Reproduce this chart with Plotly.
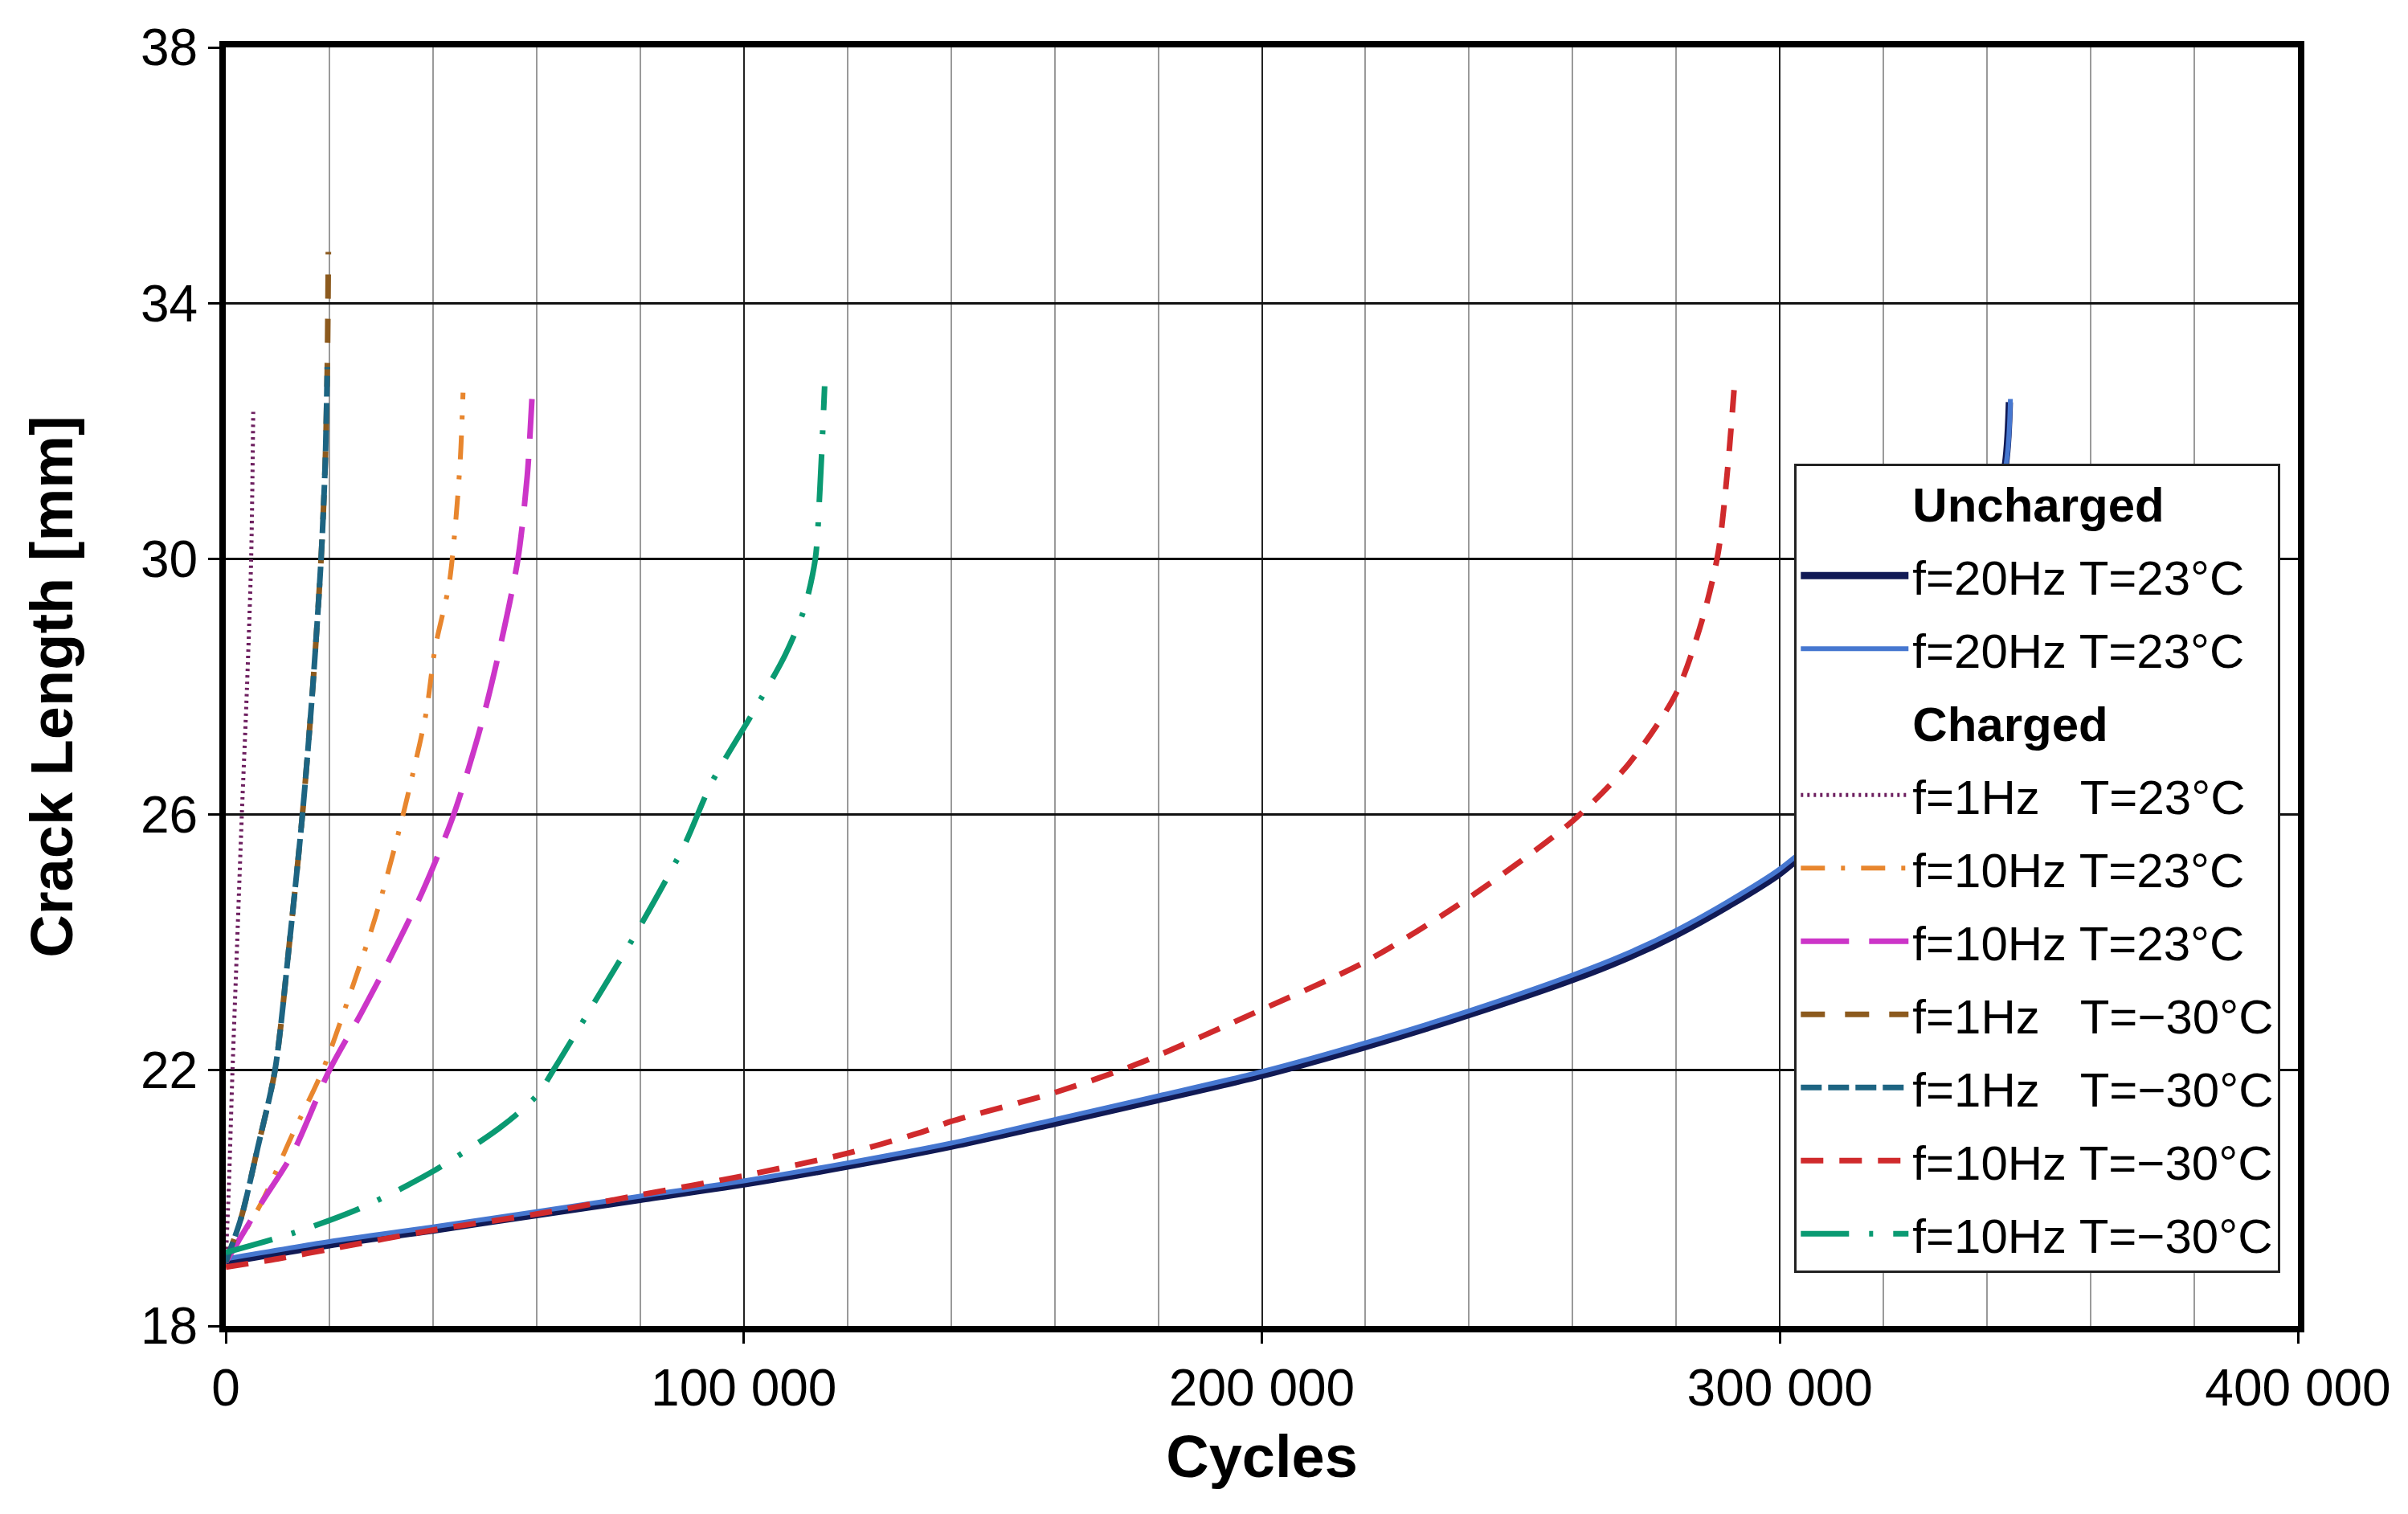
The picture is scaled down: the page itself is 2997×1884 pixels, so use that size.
import plotly.graph_objects as go

# ---------------- data ----------------
unch1_x = [0, 20000, 40000, 60000, 80000, 100000, 120000, 140000, 160000, 180000, 200000,
           220000, 240000, 260000, 270000, 280000, 290000, 300000, 310000, 320000, 330000,
           338000, 343400, 344300]
unch1_y = [19.0, 19.27, 19.5, 19.74, 19.98, 20.22, 20.5, 20.81, 21.17, 21.54, 21.92,
           22.37, 22.87, 23.42, 23.74, 24.12, 24.57, 25.08, 25.8, 26.8, 28.1,
           29.8, 31.4, 32.45]

unch2_x = [0, 20000, 40000, 60000, 80000, 100000, 120000, 140000, 160000, 180000, 200000,
           220000, 240000, 260000, 270000, 280000, 290000, 300000, 310000, 320000, 330000,
           338000, 343600, 344500]
unch2_y = [19.05, 19.32, 19.55, 19.79, 20.03, 20.27, 20.55, 20.86, 21.23, 21.6, 21.98,
           22.43, 22.93, 23.49, 23.81, 24.19, 24.64, 25.15, 25.85, 26.85, 28.15,
           29.85, 31.45, 32.5]

c1_23_x = [0, 600, 1300, 2200, 3100, 4100, 4900, 5300]
c1_23_y = [19.0, 20.2, 22.0, 24.0, 26.0, 28.0, 30.0, 32.3]

c10_23a_x = [0, 6700, 12900, 18700, 23600, 28900, 33300, 36000, 38700, 40400, 43100, 44400, 45300, 45800]
c10_23a_y = [19.0, 19.9, 21.0, 22.0, 23.1, 24.4, 25.7, 26.6, 27.6, 28.6, 29.6, 30.6, 31.6, 32.6]

c10_23b_x = [0, 6700, 12900, 20000, 26200, 32000, 38000, 44000, 49300, 52900, 56400, 58200, 59100]
c10_23b_y = [19.0, 19.9, 20.7, 22.0, 22.9, 23.8, 24.8, 26.0, 27.4, 28.6, 30.0, 31.3, 32.5]

c1_m30a_x = [0, 3000, 6200, 9500, 12300, 14800, 16800, 18400, 19200, 19600, 19800]
c1_m30a_y = [19.0, 19.7, 20.8, 22.0, 24.0, 26.0, 28.0, 30.0, 31.5, 33.0, 34.8]

c1_m30b_x = [0, 3000, 6200, 9500, 12300, 14800, 16800, 18400, 19200, 19600]
c1_m30b_y = [19.0, 19.7, 20.8, 22.0, 24.0, 26.0, 28.0, 30.0, 31.5, 33.0]

c10_m30a_x = [0, 10000, 20000, 40000, 60000, 80000, 100000, 120000, 135000, 140000, 160000,
              176000, 200000, 220000, 240000, 260000, 270900, 280000, 285200, 288100, 289900, 291300]
c10_m30a_y = [18.92, 19.05, 19.2, 19.5, 19.75, 20.05, 20.35, 20.7, 21.05, 21.2, 21.65,
              22.1, 22.95, 23.7, 24.7, 25.9, 26.8, 27.9, 29.1, 30.1, 31.4, 32.8]

c10_m30b_x = [0, 12900, 26200, 39600, 52900, 60000, 63600, 70700, 79600, 88400, 93800,
              101800, 108000, 111600, 113800, 114700, 115600]
c10_m30b_y = [19.15, 19.45, 19.85, 20.4, 21.1, 21.6, 22.05, 23.0, 24.2, 25.5, 26.5,
              27.6, 28.5, 29.2, 30.0, 31.1, 32.7]

x_tickvals = [0, 100000, 200000, 300000, 400000]
x_ticktext = ["0", "100 000", "200 000", "300 000", "400 000"]
y_tickvals = [18, 22, 26, 30, 34, 38]

name_unch = "f=20Hz T=23°C"
name_1_23 = "f=1Hz\u00a0\u00a0\u00a0T=23°C"
name_10_23 = "f=10Hz T=23°C"
name_1_m30 = "f=1Hz\u00a0\u00a0\u00a0T=\u221230°C"
name_10_m30 = "f=10Hz T=\u221230°C"

FONT = "Liberation Sans, Arial, Helvetica, sans-serif"

fig = go.Figure()

def header(text, grp):
    fig.add_trace(go.Scatter(x=[None], y=[None], mode="lines", name="<b>%s</b>" % text,
                             line=dict(color="rgba(0,0,0,0)", width=0),
                             legendgroup=grp, hoverinfo="skip"))

def curve(xs, ys, name, color, width, dash, grp):
    fig.add_trace(go.Scatter(x=xs, y=ys, mode="lines", name=name, legendgroup=grp,
                             line=dict(color=color, width=width, dash=dash,
                                       shape="spline", smoothing=0.8)))

header("Uncharged", "g0")
curve(unch1_x, unch1_y, name_unch, "#111a55", 9, "solid", "g1")
curve(unch2_x, unch2_y, name_unch, "#4677d0", 6, "solid", "g2")
header("Charged", "g3")
curve(c1_23_x, c1_23_y, name_1_23, "#6e2060", 5, "3px,5px", "g4")
curve(c10_23a_x, c10_23a_y, name_10_23, "#e8862e", 6, "30px,20px,5px,20px", "g5")
curve(c10_23b_x, c10_23b_y, name_10_23, "#cc35c8", 7, "60px,25px", "g6")
curve(c1_m30a_x, c1_m30a_y, name_1_m30, "#8c5a1e", 7, "30px,25px", "g7")
curve(c1_m30b_x, c1_m30b_y, name_1_m30, "#1d6482", 7, "26px,8px", "g8")
curve(c10_m30a_x, c10_m30a_y, name_10_m30, "#d02a2c", 7, "28px,20px", "g9")
curve(c10_m30b_x, c10_m30b_y, name_10_m30, "#0a9a72", 7, "60px,25px,5px,25px", "g10")

fig.update_layout(
    width=2997, height=1884,
    margin=dict(l=273, r=145, t=51, b=242),
    paper_bgcolor="white", plot_bgcolor="white",
    font=dict(family=FONT, color="black", size=64),
    showlegend=True,
    legend=dict(x=0.757, y=0.6745, xanchor="left", yanchor="top",
                bgcolor="white", bordercolor="#222222", borderwidth=3,
                font=dict(family=FONT, size=60, color="black"),
                traceorder="grouped", tracegroupgap=10, itemwidth=134),
)

fig.update_xaxes(
    range=[0, 400000], tickmode="array", tickvals=x_tickvals, ticktext=x_ticktext,
    showline=True, linewidth=8, linecolor="black", mirror=True,
    ticks="outside", ticklen=14, tickwidth=3, tickcolor="black",
    showgrid=True, gridcolor="#222222", gridwidth=2, zeroline=False,
    minor=dict(dtick=20000, tick0=0, showgrid=True, gridcolor="#9a9a9a", gridwidth=2, ticks=""),
    tickfont=dict(size=64, family=FONT),
    title=dict(text="<b>Cycles</b>", font=dict(size=74, family=FONT), standoff=27),
)
fig.update_yaxes(
    range=[18, 38], tickmode="array", tickvals=y_tickvals,
    showline=True, linewidth=8, linecolor="black", mirror=True,
    ticks="outside", ticklen=14, tickwidth=3, tickcolor="black",
    showgrid=True, gridcolor="#111111", gridwidth=3, zeroline=False,
    tickfont=dict(size=64, family=FONT),
    title=dict(text="<b>Crack Length [mm]</b>", font=dict(size=74, family=FONT), standoff=63),
)

fig.write_html("out.html")
